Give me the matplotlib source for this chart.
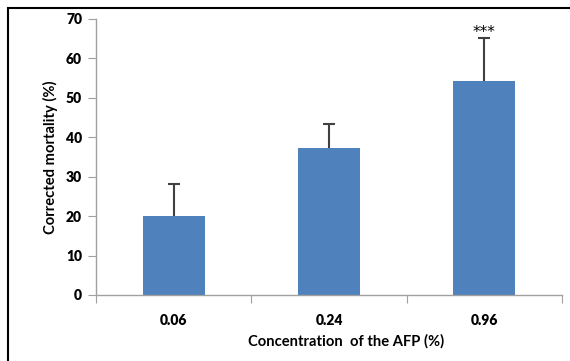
import matplotlib
matplotlib.use("Agg")
import matplotlib.pyplot as plt
from matplotlib.patches import Rectangle

categories = ["0.06", "0.24", "0.96"]
values = [20.0, 37.2, 54.2]
errors = [8.2, 6.2, 11.0]
annotations = ["", "", "***"]
yticks = [0, 10, 20, 30, 40, 50, 60, 70]

plt.rcParams['font.family'] = ['Lato', 'DejaVu Sans']

W, H = 570, 361
fig = plt.figure(figsize=(W/100, H/100), dpi=100)
fig.patch.set_facecolor("white")

# outer frame
fig.patches.append(Rectangle((8/W, -0.1), 1.2, (H-8)/H + 0.1, transform=fig.transFigure,
                             fill=False, edgecolor="black", linewidth=1.5))

ax = fig.add_axes([96/W, 1-295/H, (562-96)/W, (295-19)/H])
x = list(range(len(categories)))
ax.bar(x, values, width=0.4, color="#4F81BD", zorder=2)
eb = ax.errorbar(x, values, yerr=[[0]*3, errors], fmt="none", ecolor="#404040",
                 elinewidth=1.5, capsize=4, capthick=1.5, zorder=3)
caps = eb[1]
if len(caps) >= 2:
    caps[0].set_visible(False)
for xi, v, e, a in zip(x, values, errors, annotations):
    if a:
        ax.text(xi, v + e - 0.6, a, ha="center", va="bottom", fontsize=11,
                family=["DejaVu Sans"])

ax.set_xlim(-0.5, 2.5)
ax.set_ylim(0, 70)
ax.set_yticks(yticks)
ax.set_yticklabels([str(t) for t in yticks], fontsize=10, fontweight="heavy")
ax.set_xticks([-0.5, 0.5, 1.5, 2.5])
ax.set_xticklabels([])
ax.set_xticks(x, minor=True)
ax.set_xticklabels(categories, minor=True, fontsize=10, fontweight="heavy")
ax.tick_params(axis="x", which="minor", length=0, pad=14)
ax.tick_params(axis="x", which="major", length=6, color="#A0A0A0", direction="out")
ax.tick_params(axis="y", length=6, color="#A0A0A0", direction="out", pad=4)
for s in ["top", "right"]:
    ax.spines[s].set_visible(False)
for s in ["left", "bottom"]:
    ax.spines[s].set_color("#A0A0A0")
    ax.spines[s].set_linewidth(1)

ax.set_ylabel("Corrected mortality (%)", fontsize=10.6, fontweight="bold", labelpad=6)
fig.text(346/W, 1-341/H, "Concentration  of the AFP (%)", ha="center", va="center",
         fontsize=10.6, fontweight="bold")

fig.savefig("out.png", dpi=100)
